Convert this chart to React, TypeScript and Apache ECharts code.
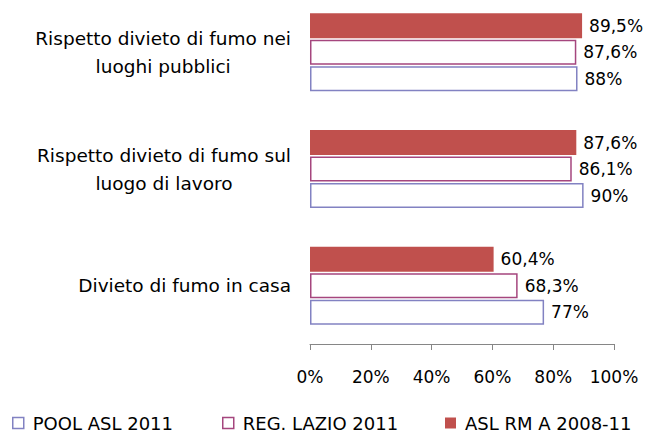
import React, { useEffect, useRef } from "react";
import * as echarts from "echarts";

const categories = [
  "Divieto di fumo in casa",
  "Rispetto divieto di fumo sul\nluogo di lavoro",
  "Rispetto divieto di fumo nei\nluoghi pubblici",
];
const poolAsl2011 = [77, 90, 88];
const regLazio2011 = [68.3, 86.1, 87.6];
const aslRmA200811 = [60.4, 87.6, 89.5];
const xTicks = [0, 20, 40, 60, 80, 100];
const seriesNames = ["POOL ASL 2011", "REG. LAZIO 2011", "ASL RM A 2008-11"];

const FONT = "DejaVu Sans";
const BLUE = "#8282C2";
const PINK = "#A5467E";
const RED = "#C0504D";

export default function App() {
  const ref = useRef<HTMLDivElement>(null);
  useEffect(() => {
    if (!ref.current) return;
    const chart = echarts.init(ref.current, undefined, { renderer: "svg" });
    const fmt = (p: any) => String(p.value).replace(".", ",") + "%";
    const label = {
      show: true,
      position: "right" as const,
      distance: 7,
      color: "#000",
      fontFamily: FONT,
      fontSize: 17,
      formatter: fmt,
    };
    const legendBase = {
      top: 414,
      padding: 0,
      itemWidth: 11,
      itemHeight: 11,
      icon: "rect",
      textStyle: { fontFamily: FONT, fontSize: 18, color: "#000", padding: [0, 0, 0, 4] },
    };
    chart.setOption({
      animation: false,
      backgroundColor: "#fff",
      grid: {
        left: 310,
        right: 35,
        bottom: 88,
        height: 350,
        containLabel: false,
        outerBoundsMode: "none",
      },
      xAxis: {
        type: "value",
        min: xTicks[0],
        max: xTicks[xTicks.length - 1],
        interval: 20,
        axisLine: { show: true, lineStyle: { color: "#868686", width: 1 } },
        axisTick: { show: true, length: 6, lineStyle: { color: "#868686" } },
        splitLine: { show: false },
        axisLabel: {
          margin: 24,
          color: "#000",
          fontFamily: FONT,
          fontSize: 17,
          formatter: (v: number) => v + "%",
        },
      },
      yAxis: {
        type: "category",
        data: categories,
        axisLine: { show: false },
        axisTick: { show: false },
        axisLabel: {
          margin: 19,
          color: "#000",
          fontFamily: FONT,
          fontSize: 18.5,
          formatter: (v: string) =>
            v
              .split("\n")
              .map((l) => `{a|${l}}`)
              .join("\n"),
          rich: {
            a: { align: "center", lineHeight: 28, fontFamily: FONT, fontSize: 18.5, color: "#000" },
          },
        },
      },
      legend: [
        {
          ...legendBase,
          left: 12,
          data: [seriesNames[0]],
          itemStyle: { color: "#fff", borderColor: BLUE, borderWidth: 1.5 },
        },
        {
          ...legendBase,
          left: 222,
          data: [seriesNames[1]],
          itemStyle: { color: "#fff", borderColor: PINK, borderWidth: 1.5 },
        },
        {
          ...legendBase,
          left: 445,
          data: [seriesNames[2]],
          itemStyle: { color: RED, borderWidth: 0 },
        },
      ],
      series: [
        {
          name: seriesNames[2],
          type: "bar",
          data: aslRmA200811,
          barWidth: 25,
          barGap: "6%",
          itemStyle: { color: RED },
          label,
        },
        {
          name: seriesNames[1],
          type: "bar",
          data: regLazio2011,
          barWidth: 25,
          barGap: "6%",
          itemStyle: { color: "#fff", borderColor: PINK, borderWidth: 1.5 },
          label,
        },
        {
          name: seriesNames[0],
          type: "bar",
          data: poolAsl2011,
          barWidth: 25,
          barGap: "6%",
          itemStyle: { color: "#fff", borderColor: BLUE, borderWidth: 1.5 },
          label,
        },
      ],
    });
    return () => chart.dispose();
  }, []);
  return (
    <div
      ref={ref}
      style={{ position: "fixed", left: 0, top: 0, width: 649, height: 432 }}
    />
  );
}
